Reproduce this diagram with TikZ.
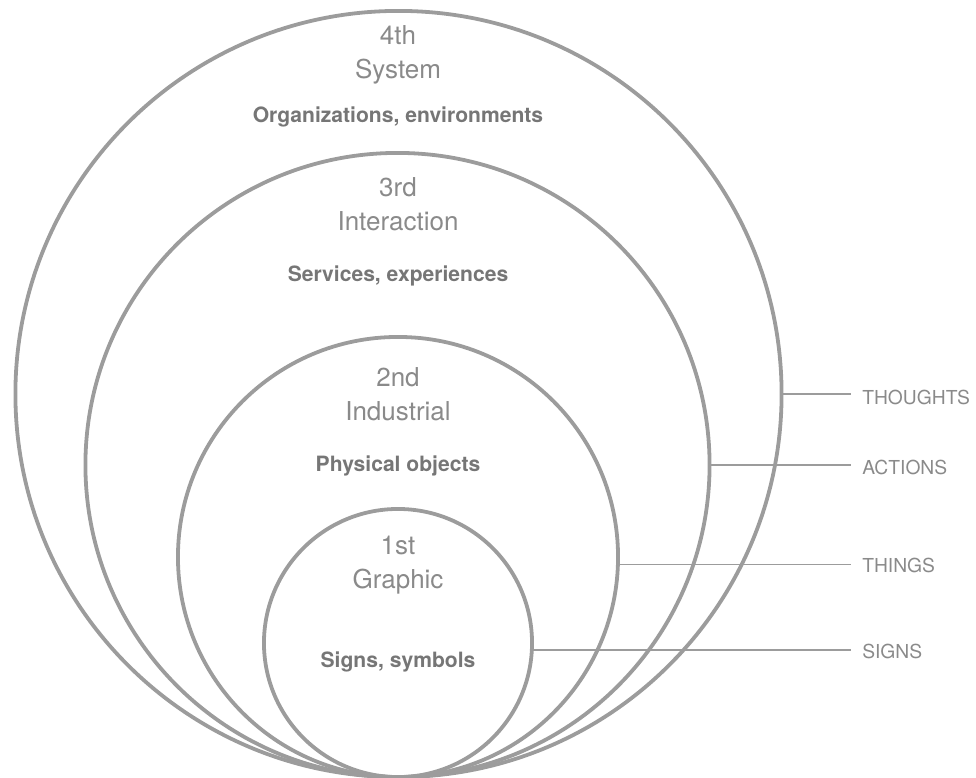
\documentclass[tikz,border=0pt]{standalone}
\usepackage{fontspec}
\setmainfont{TeX Gyre Heros}
\begin{document}
\definecolor{ring}{HTML}{9C9C9C}
\definecolor{soft}{HTML}{8A8A8A}
\definecolor{strong}{HTML}{767676}
\begin{tikzpicture}[x=0.025cm,y=-0.025cm,
  ringc/.style={circle,draw=ring,line width=2.7pt,inner sep=0pt,outer sep=0pt},
  tick/.style={draw=ring,line width=1.1pt},
  level/.style={text=soft,font=\fontsize{18.5}{24}\selectfont,align=center,inner sep=0pt},
  scope/.style={text=strong,font=\fontsize{15}{17}\selectfont\bfseries,inner sep=0pt},
  tag/.style={text=soft,font=\fontsize{13.7}{15}\selectfont,anchor=west,inner sep=0pt,inner xsep=0.275cm}]
\useasboundingbox (0,0) rectangle (976,778);

% nested rings, all touching at the bottom
\node[ringc,minimum size=19.15cm] (c4) at (398.5,394) {};
\node[ringc,minimum size=15.6cm]  (c3) at (397.5,465) {};
\node[ringc,minimum size=11cm]    (c2) at (398,557) {};
\node[ringc,minimum size=6.7cm]   (c1) at (398,643) {};

% ring titles
\node[level] (t4) at (398,55) {4th\\System};
\node[scope] (s4) at (398,117) {Organizations, environments};
\node[level] (t3) at (398,204) {3rd\\Interaction};
\node[scope] (s3) at (398,276) {Services, experiences};
\node[level] (t2) at (398,394) {2nd\\Industrial};
\node[scope] (s2) at (398,466) {Physical objects};
\node[level] (t1) at (398,565) {1st\\Graphic};
\node[scope] (s1) at (398,662) {Signs, symbols};

% side labels
\node[tag] (thoughts) at (851,397) {THOUGHTS};
\node[tag] (actions)  at (851,467) {ACTIONS};
\node[tag] (things)   at (851,565) {THINGS};
\node[tag] (signs)    at (851,651) {SIGNS};

% leaders from each ring to its label
\draw[tick] (c4.-0.45) -- (c4.-0.45 -| thoughts.west);
\draw[tick] (c3.-0.4)  -- (c3.-0.4 -| actions.west);
\draw[tick] (c2.-2.1)  -- (c2.-2.1 -| things.west);
\draw[tick] (c1.-3.4)  -- (c1.-3.4 -| signs.west);
\end{tikzpicture}
\end{document}
